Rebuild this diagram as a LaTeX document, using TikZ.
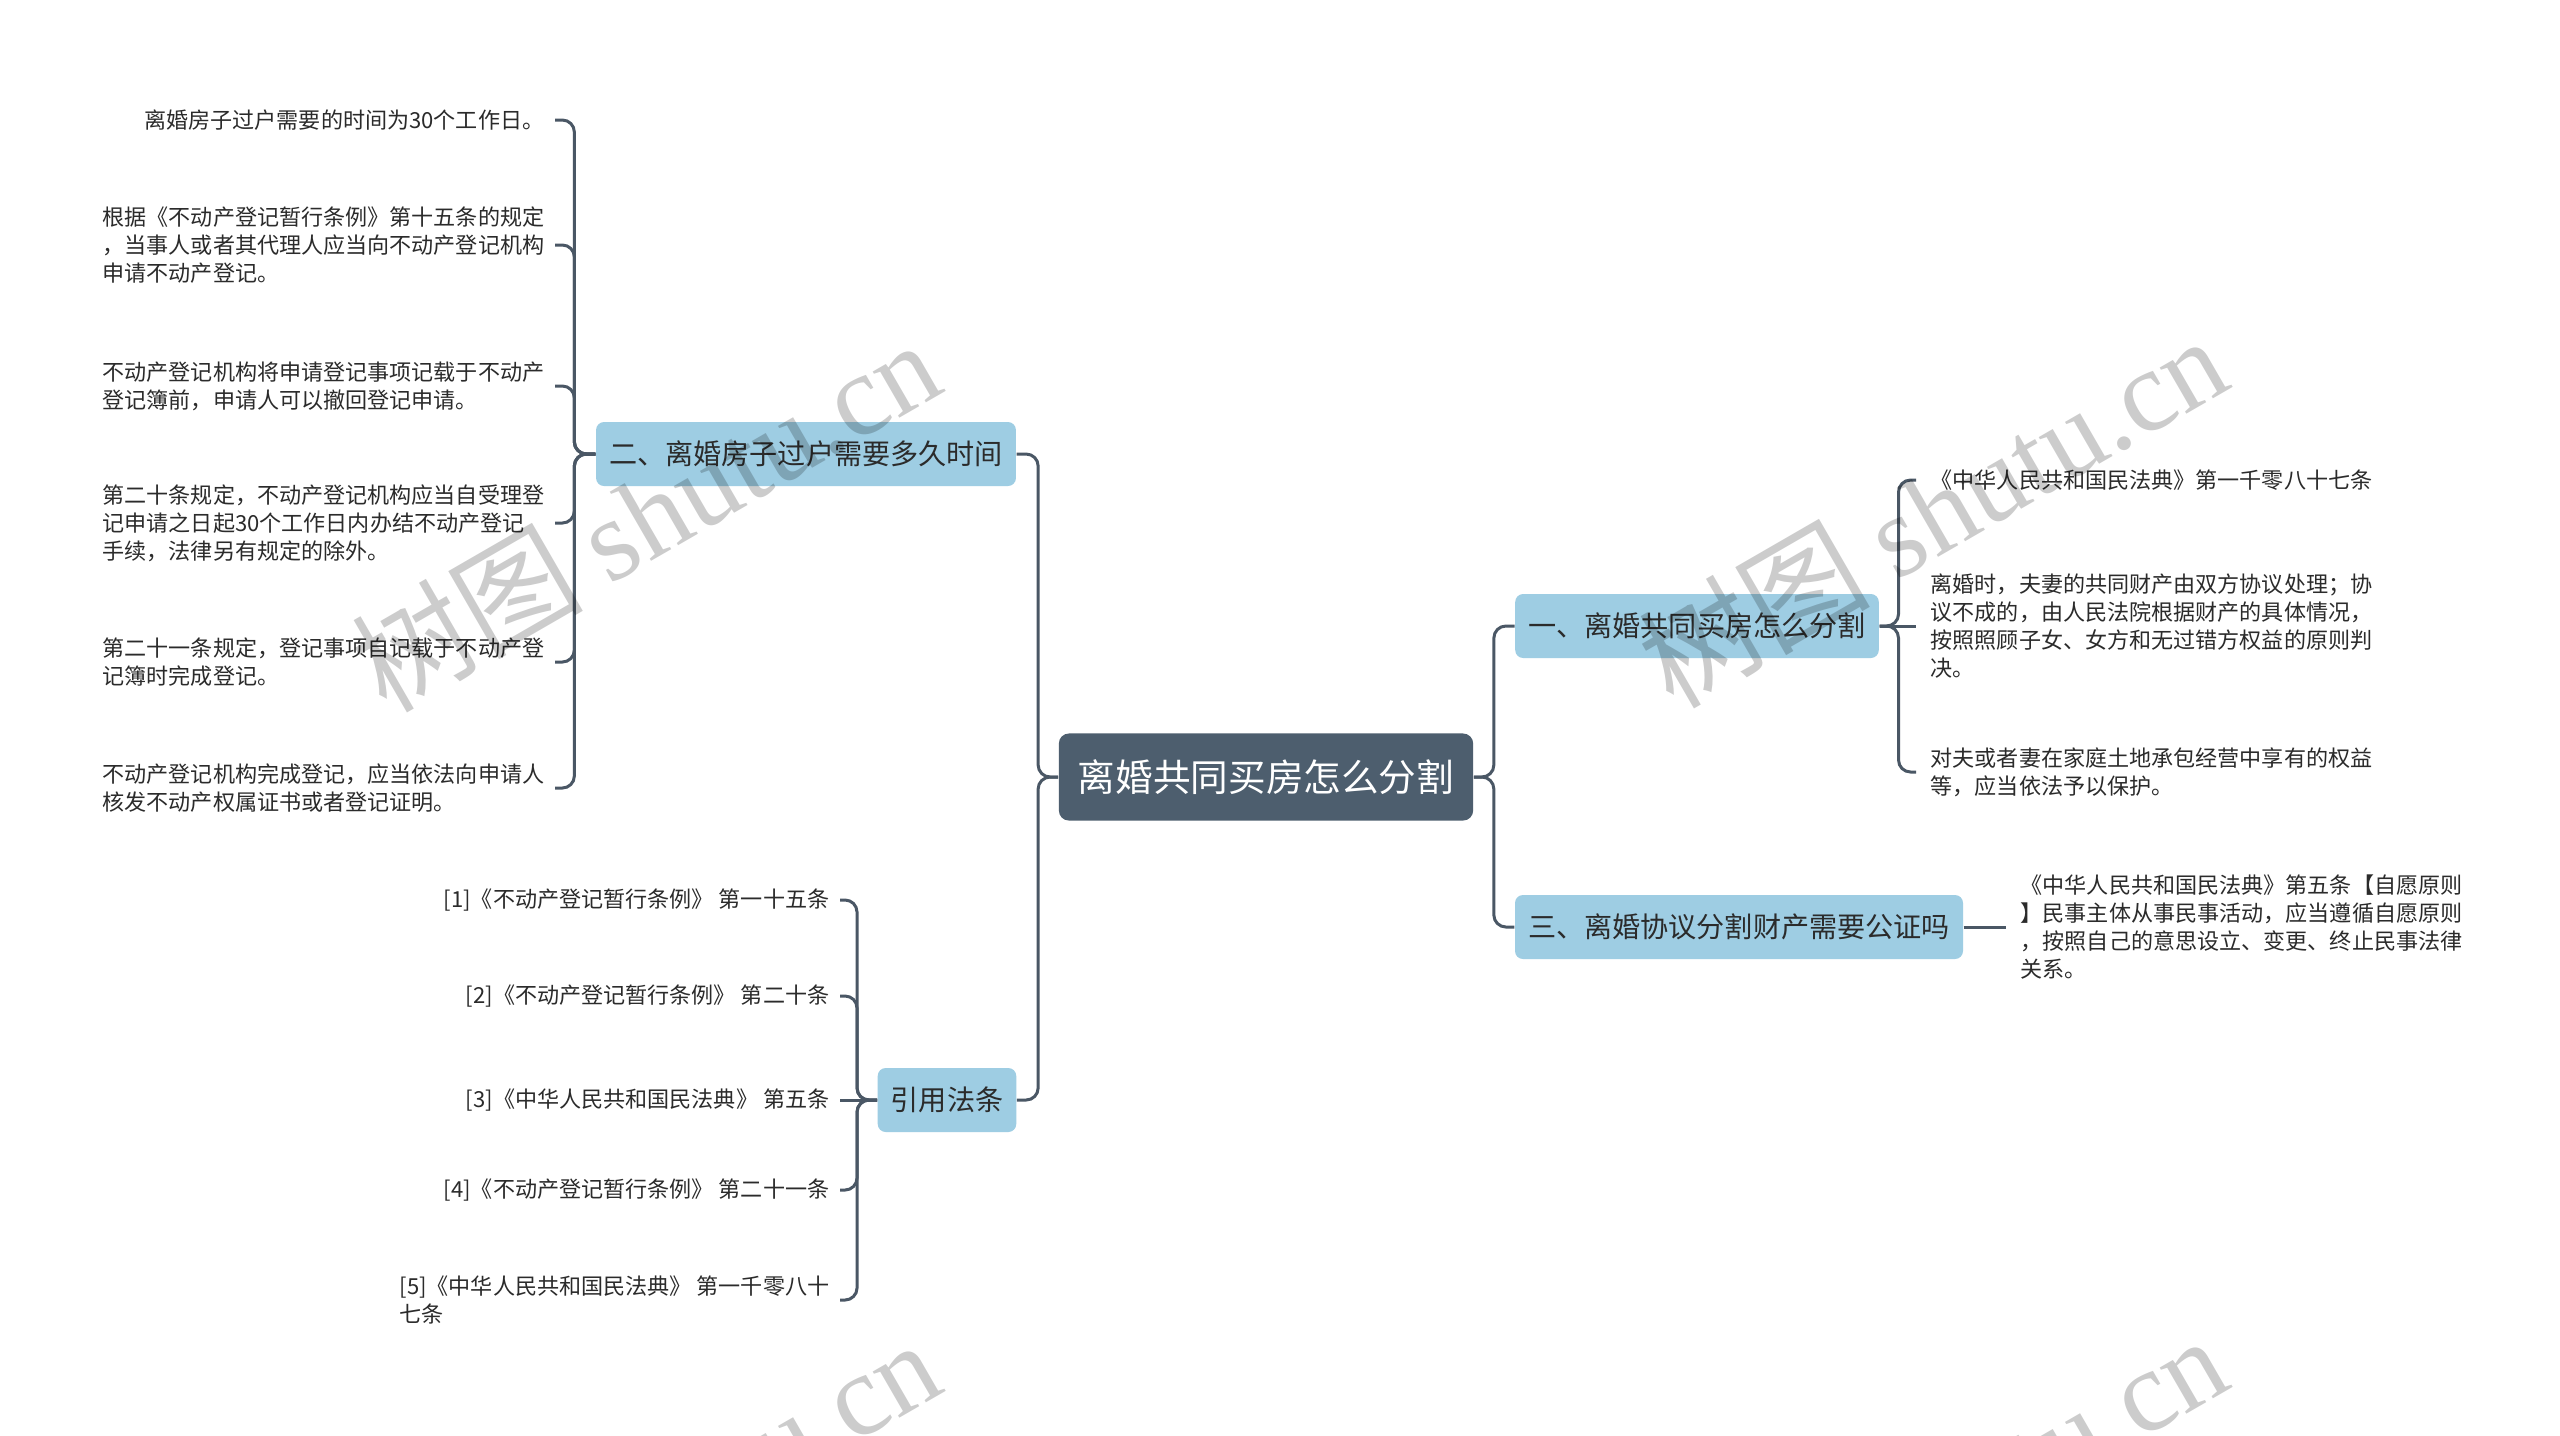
\documentclass[tikz,border=0pt]{standalone}
\usepackage{fontspec}
\setmainfont{Noto Sans CJK SC}
\newfontfamily\wmlatin{Liberation Serif}
\definecolor{rootfill}{HTML}{4D5E6E}
\definecolor{lvfill}{HTML}{9ECDE3}
\definecolor{linec}{HTML}{4A5765}
\definecolor{txt}{HTML}{2B2B2B}
\begin{document}
\begin{tikzpicture}[x=0.01cm,y=-0.01cm,
  rootbox/.style={fill=rootfill, rounded corners=0.1cm, text=white, font=\fontsize{10.7}{12}\selectfont, minimum height=0.87cm, inner xsep=0.19cm, inner ysep=0pt},
  lvbox/.style={fill=lvfill, rounded corners=0.08cm, text=txt, font=\fontsize{8}{9.6}\selectfont, minimum height=0.64cm, inner xsep=0.13cm, inner ysep=0pt},
  leaf/.style={text=txt, font=\fontsize{6.28}{7.95}\selectfont, align=left, inner ysep=0pt},
  leafl/.style={leaf, anchor=east, inner xsep=0.1cm},
  leafr/.style={leaf, anchor=west, inner xsep=0.14cm},
  conn/.style={draw=linec, line width=0.85pt, rounded corners=0.12cm},
  wmark/.style={rotate=30, text=black, text opacity=0.2, font=\fontsize{33}{36}\selectfont},
]
\useasboundingbox (0,0) rectangle (2560,1435);
\fill[white] (0,0) rectangle (2560,1435);
\clip (0,0) rectangle (2560,1435);

% central topic
\node[rootbox] (root) at (1266,777) {离婚共同买房怎么分割};

% main branches
\node[lvbox] (b2) at (806,454) {二、离婚房子过户需要多久时间};
\node[lvbox] (b4) at (947,1100) {引用法条};
\node[lvbox] (b1) at (1697,626) {一、离婚共同买房怎么分割};
\node[lvbox] (b3) at (1739,927) {三、离婚协议分割财产需要公证吗};

% leaves of b2
\node[leafl] (l21) at (555,120) {离婚房子过户需要的时间为30个工作日。};
\node[leafl] (l22) at (555,245) {根据《不动产登记暂行条例》第十五条的规定\\，当事人或者其代理人应当向不动产登记机构\\申请不动产登记。};
\node[leafl] (l23) at (555,386) {不动产登记机构将申请登记事项记载于不动产\\登记簿前，申请人可以撤回登记申请。};
\node[leafl] (l24) at (555,523) {第二十条规定，不动产登记机构应当自受理登\\记申请之日起30个工作日内办结不动产登记\\手续，法律另有规定的除外。};
\node[leafl] (l25) at (555,662) {第二十一条规定，登记事项自记载于不动产登\\记簿时完成登记。};
\node[leafl] (l26) at (555,788) {不动产登记机构完成登记，应当依法向申请人\\核发不动产权属证书或者登记证明。};

% leaves of b4
\node[leafl] (l41) at (840,900) {[1]《不动产登记暂行条例》 第一十五条};
\node[leafl] (l42) at (840,996) {[2]《不动产登记暂行条例》 第二十条};
\node[leafl] (l43) at (840,1100) {[3]《中华人民共和国民法典》 第五条};
\node[leafl] (l44) at (840,1190) {[4]《不动产登记暂行条例》 第二十一条};
\node[leafl] (l45) at (840,1300) {[5]《中华人民共和国民法典》 第一千零八十\\七条};

% leaves of b1
\node[leafr] (l11) at (1916,480) {《中华人民共和国民法典》第一千零八十七条};
\node[leafr] (l12) at (1916,626) {离婚时，夫妻的共同财产由双方协议处理；协\\议不成的，由人民法院根据财产的具体情况，\\按照照顾子女、女方和无过错方权益的原则判\\决。};
\node[leafr] (l13) at (1916,772) {对夫或者妻在家庭土地承包经营中享有的权益\\等，应当依法予以保护。};

% leaf of b3
\node[leafr] (l31) at (2006,927) {《中华人民共和国民法典》第五条【自愿原则\\】民事主体从事民事活动，应当遵循自愿原则\\，按照自己的意思设立、变更、终止民事法律\\关系。};

% connectors: root to branches
\draw[conn] (root.west) -- ++(-20,0) |- (b2.east);
\draw[conn] (root.west) -- ++(-20,0) |- (b4.east);
\draw[conn] (root.east) -- ++(20,0) |- (b1.west);
\draw[conn] (root.east) -- ++(20,0) |- (b3.west);

% b2 leaves
\foreach \n in {l21,l22,l23,l24,l25,l26}
  \draw[conn] (b2.west) -- ++(-21,0) |- (\n.east);

% b4 leaves
\foreach \n in {l41,l42,l44,l45}
  \draw[conn] (b4.west) -- ++(-20,0) |- (\n.east);
\draw[conn] (b4.west) -- (l43.east);

% b1 leaves
\foreach \n in {l11,l13}
  \draw[conn] (b1.east) -- ++(19,0) |- (\n.west);
\draw[conn] (b1.east) -- (l12.west);

% b3 leaf
\draw[conn] (b3.east) -- (l31.west);

% watermarks
\node[wmark] (wm1) at (645,514) {树图 {\wmlatin shutu.cn}};
\node[wmark] (wm2) at (1932,510) {树图 {\wmlatin shutu.cn}};
\node[wmark] (wm3) at (645,1514) {树图 {\wmlatin shutu.cn}};
\node[wmark] (wm4) at (1932,1510) {树图 {\wmlatin shutu.cn}};
\end{tikzpicture}
\end{document}
